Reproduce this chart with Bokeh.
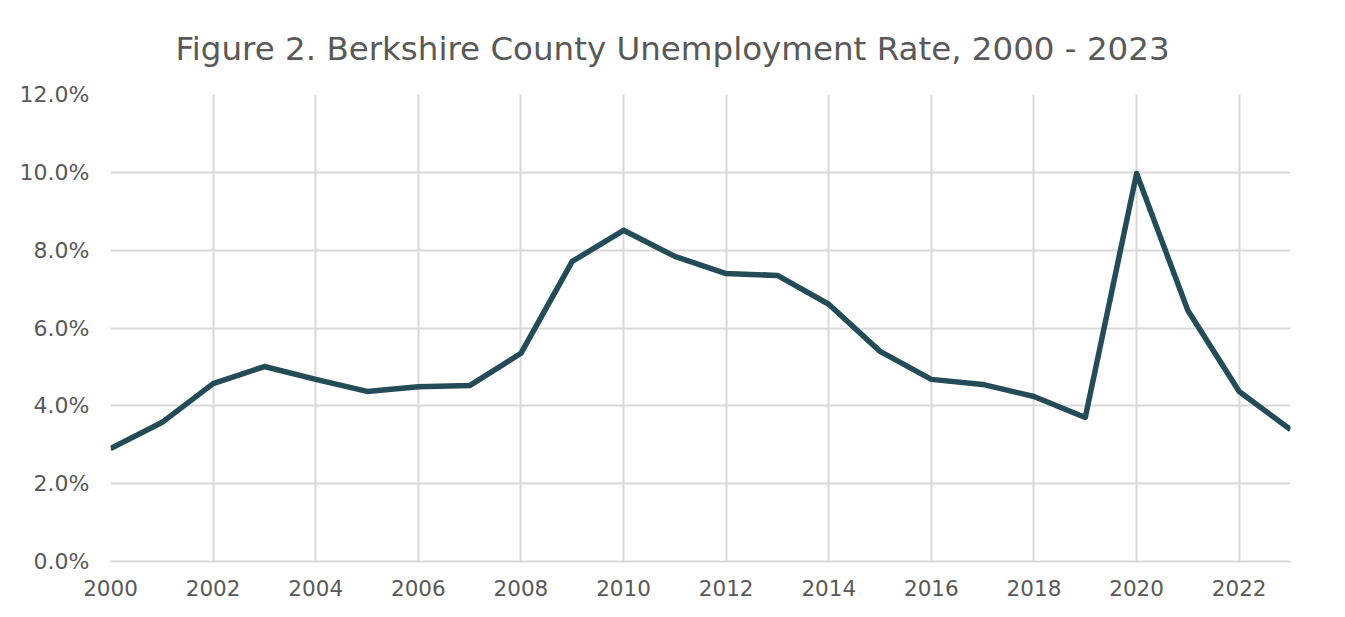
from bokeh.plotting import figure
from bokeh.models import Range1d, FixedTicker, PrintfTickFormatter, Title
from bokeh.embed import file_html
from bokeh.resources import INLINE

years = list(range(2000, 2024))
rates = [2.90, 3.57, 4.57, 5.01, 4.68, 4.37, 4.49, 4.52, 5.35, 7.71,
         8.51, 7.84, 7.40, 7.35, 6.61, 5.40, 4.68, 4.55, 4.24, 3.70,
         9.97, 6.45, 4.37, 3.39]
x_ticks = list(range(2000, 2024, 2))
y_ticks = [0, 2, 4, 6, 8, 10, 12]

FONT = "DejaVu Sans"
TXT = "#595959"

p = figure(width=1340, height=612, output_backend="svg", toolbar_location=None,
           x_range=Range1d(2000, 2023), y_range=Range1d(0, 12),
           min_border_left=110, min_border_right=50, min_border_top=94,
           min_border_bottom=51)
p.title = None
t = Title(text="Figure 2. Berkshire County Unemployment Rate, 2000 - 2023",
          align="left", text_font=FONT, text_font_size="32.5px",
          text_color=TXT, text_font_style="normal", standoff=54, offset=65)
p.add_layout(t, "above")

p.line(years, rates, line_color="#244C58", line_width=5.5, line_join="round")

p.xaxis.ticker = FixedTicker(ticks=x_ticks)
p.yaxis.ticker = FixedTicker(ticks=y_ticks)
p.yaxis.formatter = PrintfTickFormatter(format="%.1f%%")
for ax in (p.xaxis, p.yaxis):
    ax.major_tick_line_color = None
    ax.minor_tick_line_color = None
    ax.major_label_text_font = FONT
    ax.major_label_text_color = TXT
p.xaxis.major_label_text_font_size = "21.5px"
p.yaxis.major_label_text_font_size = "22px"
p.yaxis.axis_line_color = None
p.xaxis.axis_line_color = "#D9D9D9"
p.xaxis.axis_line_width = 2
p.xaxis.major_label_standoff = 12
p.yaxis.major_label_standoff = 15

p.grid.grid_line_color = "#D9D9D9"
p.grid.grid_line_width = 2
p.outline_line_color = None
p.border_fill_color = "white"
p.background_fill_color = "white"

open("out.html", "w").write(file_html(p, INLINE))
